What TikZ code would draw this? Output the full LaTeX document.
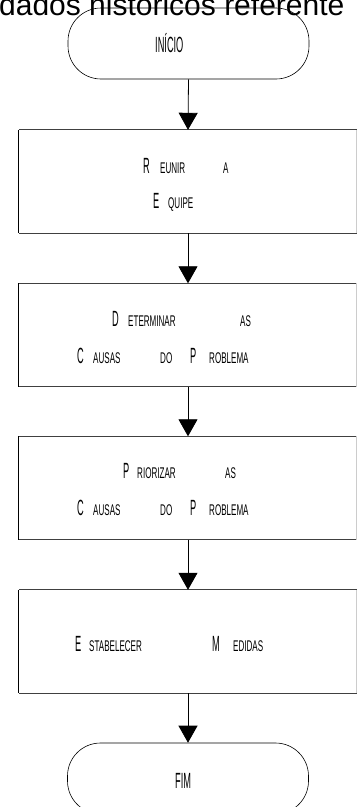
\documentclass[tikz,border=0pt]{standalone}
\usepackage{fontspec}
\setmainfont{Liberation Sans}
\newfontfamily\narbig[FakeStretch=0.42]{Liberation Sans}
\newfontfamily\narsml[FakeStretch=0.52]{Liberation Sans}
\usetikzlibrary{arrows.meta}
\newcommand\BG[1]{{\fontsize{22}{22}\selectfont\narbig #1}}
\newcommand\SM[1]{{\fontsize{15.5}{15.5}\selectfont\narsml #1}}
\newcommand\At[2]{\makebox[0pt][l]{#2}\hspace{#1pt}}
\tikzset{
  term/.style={draw=black, line width=0.6pt, rounded corners=33pt, minimum width=241pt, minimum height=71pt, inner sep=0pt},
  procbox/.style={minimum width=338pt, minimum height=103pt, inner sep=0pt},
  boxline/.style={draw=black!75, line width=1.1pt},
  sideline/.style={draw=black, line width=0.8pt},
  rightline/.style={draw=black!20, line width=0.8pt},
  lbl/.style={anchor=base west, inner sep=0pt},
  arr/.style={draw=black, line width=0.8pt, -{Triangle[width=19pt,length=17pt]}}
}
\begin{document}
\begin{tikzpicture}[x=1pt,y=-1pt]
\useasboundingbox (0,0) rectangle (357,807);
\fill[white] (0,0) rectangle (357,807);
% top clipped text
\node[lbl, font=\fontsize{30}{30}\selectfont] (toptext) at (-1,15.5) {dados históricos referente};
% start terminal
\node[term] (s) at (188.5,43.5) {};
\node[lbl] (stxt) at (155,52) {\BG{INÍCIO}};
% boxes
\node[procbox] (b1) at (188,181.5) {};
\node[procbox] (b2) at (188,335) {};
\node[procbox] (b3) at (188,488) {};
\node[procbox] (b4) at (188,641.5) {};
\foreach \b in {b1,b2,b3,b4}{
  \draw[boxline] (\b.north west) -- (\b.north east);
  \draw[boxline] (\b.south west) -- (\b.south east);
  \draw[sideline] (\b.north west) -- (\b.south west);
  \draw[rightline] ([xshift=-0.5pt]\b.north east) -- ([xshift=-0.5pt]\b.south east);
}
% box 1 text
\node[lbl] (t1a) at (143,173) {\At{17}{\BG{R}}\At{63}{\SM{EUNIR}}\SM{A}};
\node[lbl] (t1b) at (153,208) {\At{15}{\BG{E}}\SM{QUIPE}};
% box 2 text
\node[lbl] (t2a) at (112,326.5) {\At{16}{\BG{D}}\At{112}{\SM{ETERMINAR}}\SM{AS}};
\node[lbl] (t2b) at (77,363) {\At{16}{\BG{C}}\At{67}{\SM{AUSAS}}\At{30}{\SM{DO}}\At{19}{\BG{P}}\SM{ROBLEMA}};
% box 3 text
\node[lbl] (t3a) at (123,478) {\At{14}{\BG{P}}\At{88}{\SM{RIORIZAR}}\SM{AS}};
\node[lbl] (t3b) at (77,515) {\At{16}{\BG{C}}\At{67}{\SM{AUSAS}}\At{30}{\SM{DO}}\At{19}{\BG{P}}\SM{ROBLEMA}};
% box 4 text
\node[lbl] (t4a) at (75,651) {\At{14}{\BG{E}}\At{123}{\SM{STABELECER}}\At{21}{\BG{M}}\SM{EDIDAS}};
% end terminal
\node[term] (e) at (188,778.5) {};
\node[lbl] (etxt) at (175,788) {\BG{FIM}};
% connectors
\draw[arr] (s.south) -- (b1.north);
\draw[arr] (b1.south) -- (b2.north);
\draw[arr] (b2.south) -- (b3.north);
\draw[arr] (b3.south) -- (b4.north);
\draw[arr] (b4.south) -- (e.north);
\end{tikzpicture}
\end{document}
